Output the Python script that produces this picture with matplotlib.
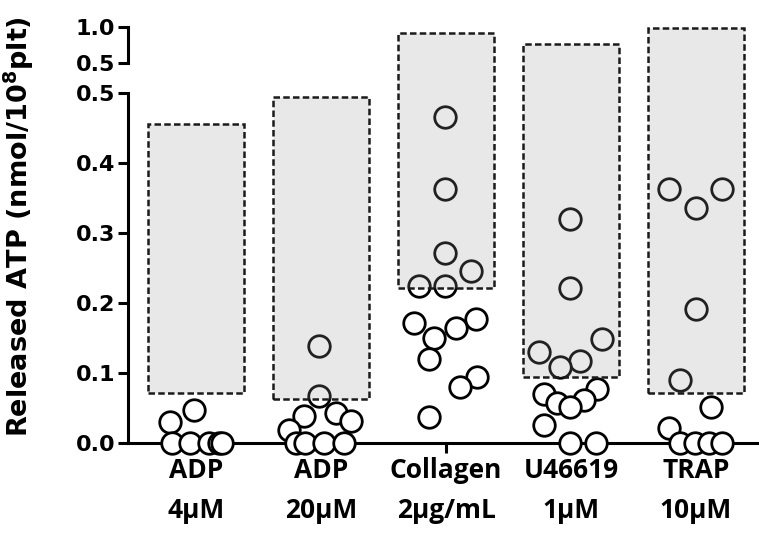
import numpy as np
import matplotlib
matplotlib.use("Agg")
import matplotlib.pyplot as plt
from matplotlib.ticker import FixedLocator, FixedFormatter

# categories (x tick labels)
labels = ["ADP\n4\u03bcM", "ADP\n20\u03bcM", "Collagen\n2\u03bcg/mL", "U46619\n1\u03bcM", "TRAP\n10\u03bcM"]

# reference range per agonist (shaded box): low / high
range_low = [0.071, 0.063, 0.221, 0.094, 0.071]
range_high = [0.456, 0.494, 0.917, 0.764, 0.99]

# released ATP per subject, with horizontal swarm offsets (category units)
adp4_vals = [0.047, 0.030, 0, 0, 0, 0, 0]
adp4_dx = [-0.02, -0.21, -0.19, -0.05, 0.10, 0.18, 0.21]

adp20_vals = [0.138, 0.067, 0.038, 0.043, 0.031, 0.019, 0, 0, 0, 0]
adp20_dx = [-0.02, -0.02, -0.14, 0.12, 0.24, -0.26, -0.20, -0.13, 0.02, 0.18]

coll_vals = [0.466, 0.363, 0.271, 0.246, 0.225, 0.225, 0.171, 0.177, 0.165,
             0.150, 0.120, 0.094, 0.080, 0.037]
coll_dx = [-0.01, -0.01, -0.01, 0.20, -0.22, -0.01, -0.26, 0.24, 0.08,
           -0.10, -0.14, 0.25, 0.11, -0.14]

u466_vals = [0.320, 0.222, 0.148, 0.130, 0.117, 0.108, 0.077, 0.070, 0.061,
             0.057, 0.052, 0.026, 0, 0]
u466_dx = [-0.01, -0.01, 0.25, -0.26, 0.07, -0.09, 0.21, -0.22, 0.10,
           -0.11, -0.01, -0.22, -0.01, 0.20]

trap_vals = [0.363, 0.363, 0.336, 0.192, 0.090, 0.051, 0.021, 0, 0, 0, 0]
trap_dx = [-0.22, 0.21, 0.0, 0.0, -0.13, 0.12, -0.22, -0.13, -0.01, 0.10, 0.21]

groups = [(adp4_vals, adp4_dx), (adp20_vals, adp20_dx), (coll_vals, coll_dx),
          (u466_vals, u466_dx), (trap_vals, trap_dx)]

# broken y axis: 0-0.5 full scale, gap, 0.5-1.0 compressed
G = 30 / 700
S = 72 / 700


def fwd(y):
    y = np.asarray(y, dtype=float)
    return np.where(y <= 0.5, y, 0.5 + G + (y - 0.5) * S)


def inv(v):
    v = np.asarray(v, dtype=float)
    return np.where(v <= 0.5, v,
                    np.where(v < 0.5 + G, 0.5, 0.5 + (v - 0.5 - G) / S))


fig = plt.figure(figsize=(7.59, 5.46), dpi=100)
ax = fig.add_axes([128 / 759, 103 / 546, 631 / 759, 416 / 546])
ax.set_yscale("function", functions=(fwd, inv))
ax.set_ylim(0, 1.0)
ax.set_xlim(-0.544, 4.504)

# data points
for i, (vals, dx) in enumerate(groups):
    xs = i + np.array(dx)
    ax.plot(xs, vals, "o", ms=15.5, mfc="white", mec="black", mew=2.0,
            zorder=3, clip_on=False)

# shaded reference ranges, drawn over the points
x = np.arange(len(labels))
ax.bar(x, np.array(range_high) - np.array(range_low), bottom=range_low,
       width=0.77, facecolor=(0.6, 0.6, 0.6, 0.22), edgecolor="#1a1a1a",
       linewidth=1.8, linestyle=(0, (2.6, 1.3)), zorder=4, clip_on=False)

# axes styling
for s in ["top", "right"]:
    ax.spines[s].set_visible(False)
ax.spines["left"].set_linewidth(2.2)
ax.spines["bottom"].set_linewidth(2.2)
ax.spines["left"].set_bounds(0, 0.5)
ax.plot([0, 0], [0.5 + 1e-6, 1.0], color="black", lw=2.2, clip_on=False,
        transform=ax.get_yaxis_transform(), solid_capstyle="projecting")

yt = [0, 0.1, 0.2, 0.3, 0.4, 0.5, 0.5 + 1e-6, 1.0]
ax.yaxis.set_major_locator(FixedLocator(yt))
ax.yaxis.set_major_formatter(FixedFormatter(
    ["0.0", "0.1", "0.2", "0.3", "0.4", "0.5", "0.5", "1.0"]))
ax.yaxis.set_minor_locator(FixedLocator([]))
ax.tick_params(axis="y", length=7, width=2.2, pad=2)
for t in ax.get_yticklabels():
    t.set_fontfamily("DejaVu Sans")
    t.set_fontweight("bold")
    t.set_fontsize(16)

ax.set_xticks(x)
ax.set_xticklabels(labels, fontfamily="Open Sans", fontweight="bold",
                   fontsize=19, linespacing=1.62)
ax.tick_params(axis="x", length=7, width=2.2, pad=3)

ax.set_ylabel("Released ATP (nmol/10$^{\\mathbf{8}}$plt)", fontfamily="DejaVu Sans",
              fontweight="bold", fontsize=19.5)
ax.yaxis.set_label_coords(-0.146, 0.52)

fig.savefig("out.png", dpi=100)
